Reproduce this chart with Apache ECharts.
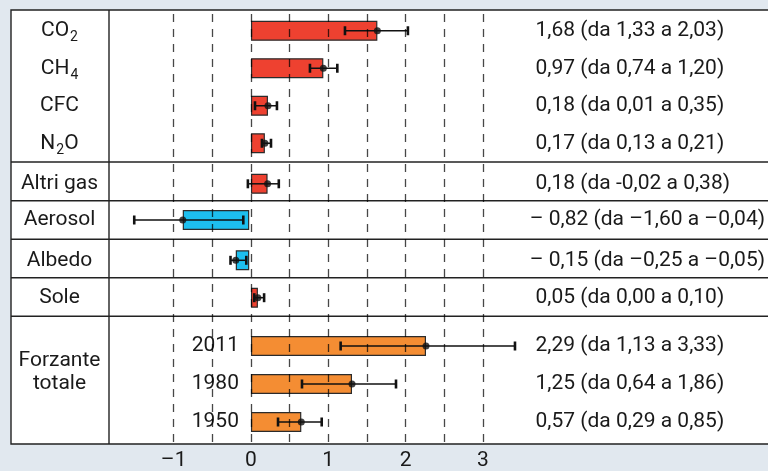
<!DOCTYPE html>
<html>
<head>
<meta charset="utf-8">
<script src="https://cdn.jsdelivr.net/npm/echarts@6/dist/echarts.min.js"></script>
<style>
html,body{margin:0;padding:0;background:#e1e8ef;}
#chart{width:768px;height:471px;}
</style>
</head>
<body>
<div id="chart"></div>
<script>
// ---- data ----
const categories = ['CO2','CH4','CFC','N2O','Altri gas','Aerosol','Albedo','Sole','2011','1980','1950'];
const sectionOf  = [0,0,0,0,1,2,3,4,5,5,5];
const sectionTitles = ['', '', '', '', '', 'Forzante\ntotale'];
const values = [1.635, 0.936, 0.22, 0.18, 0.215, -0.873, -0.177, 0.09, 2.264, 1.307, 0.651];
const lows   = [1.216, 0.763, 0.052, 0.142, -0.04, -1.51, -0.246, 0.043, 1.16, 0.66, 0.35];
const highs  = [2.03, 1.117, 0.336, 0.259, 0.36, -0.078, -0.039, 0.17, 3.415, 1.876, 0.915];
const valueLabels = [
  '1,68 (da 1,33 a 2,03)',
  '0,97 (da 0,74 a 1,20)',
  '0,18 (da 0,01 a 0,35)',
  '0,17 (da 0,13 a 0,21)',
  '0,18 (da -0,02 a 0,38)',
  '– 0,82 (da –1,60 a –0,04)',
  '– 0,15 (da –0,25 a –0,05)',
  '0,05 (da 0,00 a 0,10)',
  '2,29 (da 1,13 a 3,33)',
  '1,25 (da 0,64 a 1,86)',
  '0,57 (da 0,29 a 0,85)'
];
const xTickValues = [-1, 0, 1, 2, 3];
const xTickLabels = ['–1', '0', '1', '2', '3'];
const gridLineValues = [-1, -0.5, 0, 0.5, 1, 1.5, 2, 2.5, 3];

// ---- layout / style ----
const FONT = 'Roboto';
const FS = 21;
const TXT = '#1a1a1a';
const RED = '#ee4130', BLUE = '#1dbfef', ORANGE = '#f48d33';
const XMIN = -1.5, XMAX = 3.5;
const GRID_LEFT = 135, GRID_RIGHT = 768 - 521.55;
const sectionLayout = [
  {top: 12,    height: 150, color: RED},
  {top: 164.3, height: 39,  color: RED},
  {top: 200.5, height: 39,  color: BLUE},
  {top: 240.8, height: 39,  color: BLUE},
  {top: 278.2, height: 39,  color: RED},
  {top: 327,   height: 114, color: ORANGE}
];
const separatorsY = [162, 200.7, 239.3, 277.7, 316.3];

function subLabel(name) {
  return '{n|' + name.replace(/(\d)/g, '}{s|$1}{n|') + '}';
}

const grids = [{left: GRID_LEFT, right: GRID_RIGHT, top: 10, height: 434}];
const xAxes = [{
  type: 'value', gridIndex: 0, min: XMIN, max: XMAX, interval: 0.5,
  axisLine: {show: false}, axisTick: {show: false}, splitLine: {show: false},
  axisLabel: {
    margin: 8, fontSize: FS, fontFamily: FONT, color: TXT,
    formatter: v => { const i = xTickValues.indexOf(v); return i >= 0 ? xTickLabels[i] : ''; }
  }
}];
const yAxes = [{type: 'value', gridIndex: 0, min: 0, max: 1, show: false}];
const series = [{
  type: 'line', xAxisIndex: 0, yAxisIndex: 0, data: [], z: 3, silent: true,
  markLine: {
    silent: true, symbol: 'none', label: {show: false},
    lineStyle: {type: [8, 7], color: 'rgba(0,0,0,0.72)', width: 1.3},
    emphasis: {disabled: true},
    data: gridLineValues.map(v => ({xAxis: v}))
  }
}];

sectionLayout.forEach((lay, s) => {
  const idx = categories.map((c, i) => i).filter(i => sectionOf[i] === s);
  const cats = idx.map(i => categories[i]);
  const gi = s + 1;
  grids.push({left: GRID_LEFT, right: GRID_RIGHT, top: lay.top, height: lay.height});
  xAxes.push({type: 'value', gridIndex: gi, min: XMIN, max: XMAX, show: false});
  const leftIdx = yAxes.length;
  const isTotal = sectionTitles[s] !== '';
  yAxes.push({
    type: 'category', gridIndex: gi, data: cats, inverse: true,
    axisLine: {show: false}, axisTick: {show: false}, splitLine: {show: false},
    axisLabel: {
      show: !isTotal, margin: GRID_LEFT - 59.5, align: 'center',
      formatter: v => subLabel(v),
      rich: {
        n: {fontSize: FS, fontFamily: FONT, color: TXT},
        s: {fontSize: 14, fontFamily: FONT, color: TXT, padding: [14, 0, 0, 1]}
      }
    }
  });
  yAxes.push({
    type: 'category', gridIndex: gi, data: cats, inverse: true, position: 'right',
    axisLine: {show: false}, axisTick: {show: false}, splitLine: {show: false},
    axisLabel: {
      margin: 14, align: 'left', fontSize: FS, fontFamily: FONT, color: TXT,
      formatter: (v, k) => valueLabels[idx[k]]
    }
  });
  series.push({
    type: 'bar', xAxisIndex: gi, yAxisIndex: leftIdx, barWidth: 20, z: 2,
    data: idx.map(i => values[i]),
    itemStyle: {color: lay.color, borderColor: '#2b2b2b', borderWidth: 1.2},
    label: isTotal ? {
      show: true, position: 'left', distance: 12, formatter: p => p.name,
      fontSize: FS, fontFamily: FONT, color: TXT
    } : {show: false},
    silent: true
  });
  series.push({
    type: 'custom', xAxisIndex: gi, yAxisIndex: leftIdx, z: 4, clip: false, silent: true,
    data: idx.map(i => [lows[i], highs[i], categories[i]]),
    encode: {x: [0, 1], y: 2},
    renderItem: (params, api) => {
      const a = api.coord([api.value(0), api.value(2)]);
      const b = api.coord([api.value(1), api.value(2)]);
      const h = 4.5;
      const st = {stroke: '#111', lineWidth: 1.5};
      const cap = {stroke: '#111', lineWidth: 2.6};
      return {type: 'group', children: [
        {type: 'line', shape: {x1: a[0], y1: a[1], x2: b[0], y2: b[1]}, style: st},
        {type: 'line', shape: {x1: a[0], y1: a[1] - h, x2: a[0], y2: a[1] + h}, style: cap},
        {type: 'line', shape: {x1: b[0], y1: b[1] - h, x2: b[0], y2: b[1] + h}, style: cap}
      ]};
    }
  });
  series.push({
    type: 'scatter', xAxisIndex: gi, yAxisIndex: leftIdx, z: 5, silent: true,
    symbolSize: 7, itemStyle: {color: '#111'},
    data: idx.map(i => [values[i], categories[i]])
  });
});

const graphic = [
  {type: 'rect', z: -10, shape: {x: 11, y: 10, width: 770, height: 434},
   style: {fill: '#ffffff', stroke: '#222', lineWidth: 1.4}},
  {type: 'line', z: -5, shape: {x1: 109, y1: 10, x2: 109, y2: 444},
   style: {stroke: '#222', lineWidth: 1.4}}
].concat(separatorsY.map(y => ({
  type: 'line', z: -5, shape: {x1: 11, y1: y, x2: 770, y2: y},
  style: {stroke: '#222', lineWidth: 1.4}
}))).concat(sectionTitles.map((t, s) => t ? {
  type: 'text', z: 10, x: 59.5, y: 372,
  style: {text: t, align: 'center', verticalAlign: 'middle', fontSize: FS,
          fontFamily: FONT, fill: TXT, lineHeight: 23.5}
} : null).filter(Boolean));

const chart = echarts.init(document.getElementById('chart'), null, {renderer: 'canvas'});
chart.setOption({
  backgroundColor: '#e1e8ef',
  animation: false,
  grid: grids, xAxis: xAxes, yAxis: yAxes, series: series, graphic: graphic
});
</script>
</body>
</html>
